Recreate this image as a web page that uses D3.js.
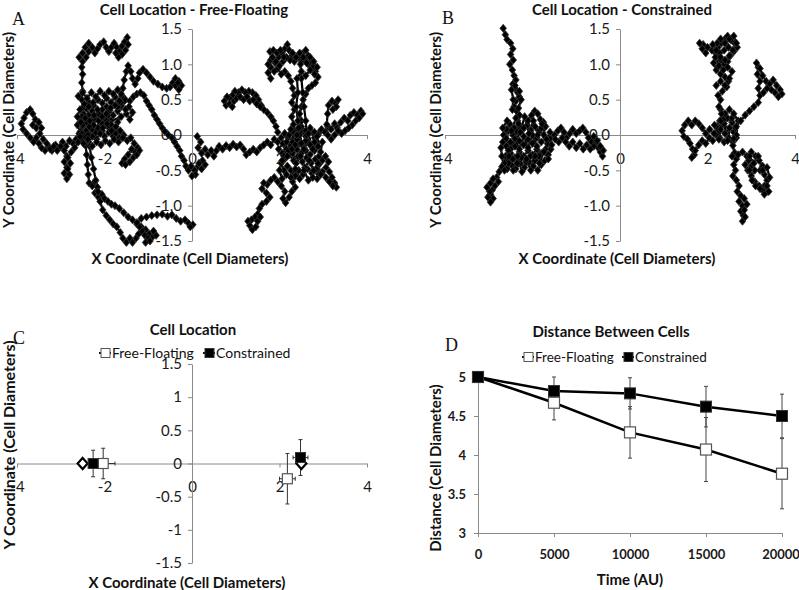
<!DOCTYPE html>
<html><head><meta charset="utf-8">
<script src="https://cdn.jsdelivr.net/npm/d3@7"></script>
<style>body{margin:0;background:#fff}svg{display:block}text{font-family:Lato,"Open Sans",sans-serif}</style>
</head><body><svg id="c" width="799" height="590"></svg>
<script>
// ---------------- DATA ----------------
const walkTicksX = [-4, -2, 0, 2, 4];
const walkTicksY = [-1.5, -1, -0.5, 0, 0.5, 1, 1.5];
const locTicksY = [-1.5, -1, -0.5, 0, 0.5, 1, 1.5];

// Panel A: free-floating trajectories (left cell)
const freeL1 = [[-2.5,0.0],[-2.42,0.06],[-2.35,0.0],[-2.28,0.08],[-2.2,0.03],[-2.12,0.12],[-2.05,0.06],[-1.98,0.15],[-1.9,0.1],[-1.85,0.2],[-1.92,0.28],[-2.02,0.24],[-2.1,0.32],[-2.2,0.26],[-2.28,0.34],[-2.36,0.28],[-2.42,0.38],[-2.35,0.46],[-2.25,0.42],[-2.15,0.5],[-2.05,0.45],[-1.95,0.52],[-1.85,0.46],[-1.76,0.54],[-1.68,0.48],[-1.6,0.56],[-1.55,0.48],[-1.62,0.4],[-1.7,0.34],[-1.62,0.26],[-1.7,0.18],[-1.78,0.1],[-1.7,0.04],[-1.8,-0.02],[-1.9,0.04],[-2.0,-0.02],[-2.1,0.02],[-2.18,-0.06],[-2.28,-0.02],[-2.36,-0.1],[-2.45,-0.04],[-2.55,0.05],[-2.62,0.14],[-2.55,0.22],[-2.48,0.3],[-2.4,0.22],[-2.3,0.18],[-2.22,0.22],[-2.14,0.3],[-2.05,0.36],[-1.95,0.4],[-1.88,0.35],[-1.8,0.28],[-1.85,0.15],[-1.95,0.2],[-2.05,0.16],[-2.15,0.1],[-2.25,0.14],[-2.35,0.12],[-2.42,0.18],[-2.5,0.12],[-2.58,0.02],[-2.65,-0.06],[-2.72,-0.12],[-2.8,-0.08],[-2.88,-0.16],[-2.96,-0.1],[-3.04,-0.18],[-3.12,-0.14],[-3.2,-0.22],[-3.28,-0.16],[-3.36,-0.22],[-3.44,-0.18],[-3.5,-0.12],[-3.56,-0.04],[-3.62,-0.1],[-3.7,-0.04],[-3.78,0.02],[-3.86,0.08],[-3.9,0.16],[-3.84,0.24],[-3.78,0.32],[-3.7,0.36],[-3.64,0.3],[-3.58,0.22],[-3.64,0.14],[-3.56,0.1],[-3.5,0.18],[-3.44,0.1],[-3.48,0.02],[-3.4,-0.06],[-3.32,-0.12],[-3.24,-0.2],[-3.16,-0.16],[-3.08,-0.22],[-3.0,-0.16],[-2.92,-0.22],[-2.86,-0.3],[-2.92,-0.38],[-2.86,-0.46],[-2.92,-0.54],[-2.86,-0.62],[-2.8,-0.56],[-2.84,-0.48],[-2.78,-0.4],[-2.84,-0.32],[-2.76,-0.24],[-2.68,-0.18],[-2.6,-0.1],[-2.52,-0.04]];
const freeL2 = [[-2.52,0.02],[-2.5,0.14],[-2.52,0.26],[-2.5,0.38],[-2.52,0.5],[-2.5,0.62],[-2.52,0.74],[-2.5,0.86],[-2.52,0.96],[-2.5,1.04],[-2.58,1.1],[-2.5,1.16],[-2.42,1.1],[-2.36,1.18],[-2.44,1.24],[-2.36,1.3],[-2.28,1.24],[-2.22,1.16],[-2.16,1.22],[-2.1,1.28],[-2.02,1.32],[-1.96,1.24],[-1.9,1.18],[-1.84,1.24],[-1.78,1.3],[-1.72,1.24],[-1.66,1.18],[-1.6,1.26],[-1.54,1.32],[-1.48,1.38],[-1.46,1.28],[-1.52,1.2],[-1.6,1.14],[-1.68,1.1],[-1.74,1.16]];
const freeL3 = [[-1.62,0.42],[-1.6,0.54],[-1.58,0.66],[-1.55,0.78],[-1.5,0.9],[-1.46,0.98],[-1.4,0.9],[-1.36,0.8],[-1.3,0.72],[-1.24,0.8],[-1.2,0.88],[-1.12,0.93],[-1.04,0.88],[-0.96,0.82],[-0.88,0.76],[-0.78,0.72],[-0.68,0.68],[-0.58,0.66],[-0.5,0.68],[-0.44,0.74],[-0.38,0.8],[-0.3,0.76],[-0.24,0.7],[-0.3,0.64],[-0.38,0.7],[-0.32,0.74]];
const freeL4 = [[-1.7,0.4],[-1.62,0.46],[-1.52,0.5],[-1.42,0.48],[-1.34,0.54],[-1.26,0.58],[-1.18,0.6],[-1.1,0.56],[-1.04,0.48],[-0.98,0.42],[-0.92,0.36],[-0.86,0.28],[-0.8,0.22],[-0.74,0.16],[-0.68,0.1],[-0.62,0.05],[-0.54,0.0],[-0.46,-0.04],[-0.4,-0.1],[-0.34,-0.16],[-0.28,-0.22],[-0.24,-0.3],[-0.18,-0.36],[-0.14,-0.44],[-0.08,-0.5],[-0.02,-0.44],[0.06,-0.5],[0.14,-0.44],[0.22,-0.48],[0.3,-0.42],[0.24,-0.36],[0.16,-0.4],[0.08,-0.56],[0.0,-0.58]];
const freeL5 = [[-1.75,0.02],[-1.66,-0.04],[-1.56,0.0],[-1.48,-0.08],[-1.4,-0.04],[-1.32,-0.12],[-1.24,-0.18],[-1.3,-0.24],[-1.38,-0.2],[-1.46,-0.28],[-1.54,-0.34],[-1.6,-0.4],[-1.52,-0.42],[-1.42,-0.38],[-1.34,-0.32],[-1.26,-0.28],[-1.2,-0.22]];
const freeL6 = [[-2.45,-0.02],[-2.43,-0.15],[-2.41,-0.28],[-2.39,-0.42],[-2.37,-0.56],[-2.35,-0.68],[-2.28,-0.72],[-2.22,-0.66],[-2.16,-0.74],[-2.22,-0.82],[-2.14,-0.88],[-2.06,-0.84],[-2.0,-0.9],[-1.92,-0.94],[-1.84,-0.98],[-1.76,-1.0],[-1.66,-1.04],[-1.56,-1.1],[-1.46,-1.16],[-1.36,-1.2],[-1.26,-1.26],[-1.16,-1.3],[-1.06,-1.34],[-0.98,-1.4],[-0.9,-1.44],[-0.82,-1.42],[-0.88,-1.36]];
const freeL7 = [[-2.38,0.0],[-2.34,-0.16],[-2.3,-0.32],[-2.25,-0.48],[-2.2,-0.64],[-2.15,-0.8],[-2.1,-0.94],[-2.04,-1.06],[-1.96,-1.14],[-1.88,-1.2],[-1.8,-1.26],[-1.72,-1.3],[-1.64,-1.38],[-1.58,-1.46],[-1.5,-1.52],[-1.42,-1.46],[-1.36,-1.52],[-1.28,-1.46],[-1.22,-1.4],[-1.14,-1.36],[-1.08,-1.42],[-1.0,-1.46],[-1.06,-1.52],[-0.96,-1.5],[-1.2,-1.3],[-1.26,-1.24],[-1.16,-1.18],[-1.04,-1.16],[-0.92,-1.14],[-0.8,-1.13],[-0.68,-1.12],[-0.56,-1.15],[-0.46,-1.13],[-0.36,-1.18],[-0.26,-1.22],[-0.16,-1.2],[-0.08,-1.25],[0.02,-1.27],[-0.04,-1.3]];
const freeL8 = [[-2.6,0.55],[-2.5,0.6],[-2.4,0.52],[-2.3,0.6],[-2.2,0.54],[-2.1,0.62],[-2.0,0.56],[-1.9,0.62],[-1.8,0.58],[-1.7,0.64],[-1.62,0.58],[-1.66,0.48],[-1.76,0.42],[-1.86,0.38],[-1.96,0.3],[-2.06,0.26],[-2.16,0.36],[-2.26,0.46],[-2.36,0.4],[-2.46,0.44],[-2.56,0.36],[-2.62,0.26],[-2.54,0.18],[-2.44,0.24],[-2.34,0.2],[-2.24,0.28],[-2.14,0.2],[-2.04,0.1],[-1.94,0.16],[-1.84,0.06],[-1.74,0.12],[-1.64,0.06],[-1.58,-0.04],[-1.68,-0.1],[-1.78,-0.06],[-1.88,-0.12],[-1.98,-0.08],[-2.08,-0.14],[-2.18,-0.1],[-2.28,-0.16],[-2.38,-0.06],[-2.48,-0.12],[-2.56,-0.02],[-1.5,0.3],[-1.42,0.22],[-1.36,0.32],[-1.44,0.4],[-1.52,0.36]];
// Panel A: free-floating trajectories (right cell)
const freeR1 = [[0.12,-0.02],[0.2,-0.1],[0.14,-0.18],[0.22,-0.26],[0.3,-0.2],[0.36,-0.28],[0.44,-0.22],[0.5,-0.3],[0.56,-0.22],[0.62,-0.16],[0.7,-0.2],[0.78,-0.15],[0.86,-0.18],[0.94,-0.13],[1.02,-0.17],[1.1,-0.14],[1.18,-0.2],[1.24,-0.28],[1.32,-0.24],[1.4,-0.2],[1.48,-0.24],[1.56,-0.18],[1.64,-0.14],[1.72,-0.1],[1.8,-0.14],[1.88,-0.06],[1.96,-0.1],[2.04,-0.04],[2.12,0.02]];
const freeR2 = [[2.12,0.02],[2.2,-0.04],[2.3,0.04],[2.4,-0.02],[2.5,0.06],[2.6,-0.02],[2.7,0.05],[2.8,-0.04],[2.9,0.03],[2.86,-0.1],[2.76,-0.16],[2.66,-0.1],[2.56,-0.18],[2.46,-0.12],[2.36,-0.2],[2.26,-0.14],[2.16,-0.2],[2.06,-0.26],[2.12,-0.34],[2.22,-0.28],[2.32,-0.36],[2.42,-0.3],[2.52,-0.38],[2.62,-0.32],[2.72,-0.4],[2.82,-0.34],[2.9,-0.42],[2.84,-0.5],[2.74,-0.54],[2.64,-0.48],[2.54,-0.56],[2.44,-0.5],[2.34,-0.58],[2.26,-0.5],[2.18,-0.44],[2.1,-0.5],[2.04,-0.4],[2.1,-0.3],[2.2,-0.22],[2.3,-0.26],[2.4,-0.2],[2.5,-0.26],[2.6,-0.22],[2.7,-0.28],[2.8,-0.22],[2.88,-0.16],[2.8,-0.1],[2.7,-0.14],[2.6,-0.08],[2.5,-0.12],[2.4,-0.06],[2.3,-0.1],[2.22,0.0],[2.3,0.1],[2.4,0.06],[2.5,0.12],[2.6,0.06],[2.7,0.1],[2.8,0.04]];
const freeR3 = [[2.36,-0.58],[2.3,-0.66],[2.36,-0.74],[2.28,-0.8],[2.22,-0.88],[2.14,-0.96],[2.08,-0.9],[2.12,-0.8],[2.04,-0.72],[1.96,-0.66],[1.88,-0.6],[1.8,-0.64],[1.72,-0.7],[1.64,-0.68],[1.6,-0.76],[1.7,-0.82],[1.78,-0.88],[1.7,-0.94],[1.6,-0.98],[1.54,-1.04],[1.5,-1.12],[1.44,-1.16],[1.36,-1.2],[1.28,-1.22],[1.32,-1.28],[1.38,-1.34],[1.46,-1.3],[1.5,-1.22],[1.56,-1.16]];
const freeR4 = [[2.9,-0.3],[2.98,-0.36],[3.05,-0.3],[3.12,-0.38],[3.06,-0.46],[3.14,-0.52],[3.2,-0.6],[3.26,-0.68],[3.3,-0.74],[3.22,-0.72],[3.14,-0.66],[3.06,-0.6],[2.98,-0.52],[2.9,-0.56],[2.84,-0.48]];
const freeR5 = [[2.3,0.05],[2.32,0.15],[2.28,0.26],[2.34,0.36],[2.28,0.46],[2.34,0.56],[2.3,0.66],[2.26,0.76],[2.2,0.84],[2.12,0.9],[2.04,0.86],[1.96,0.94],[1.88,0.9],[1.8,0.96],[1.74,0.88],[1.8,0.8],[1.74,1.0],[1.8,1.06],[1.9,1.02],[1.98,1.1],[2.06,1.16],[2.12,1.22],[2.18,1.28],[2.22,1.2],[2.26,1.1],[2.34,1.04],[2.42,1.1],[2.5,1.04],[2.58,1.08],[2.66,1.0],[2.74,0.96],[2.82,0.9],[2.88,0.82],[2.82,0.74],[2.74,0.7],[2.66,0.66],[2.6,0.58],[2.54,0.5],[2.5,0.4],[2.46,0.3],[2.5,0.2],[2.44,0.1]];
const freeR6 = [[2.62,0.0],[2.6,0.2],[2.56,0.4],[2.53,0.6],[2.5,0.8],[2.48,1.0],[2.52,1.15],[2.6,1.2],[2.66,1.12],[2.72,1.04],[2.78,0.98]];
const freeR7 = [[2.88,0.0],[2.96,0.08],[3.04,0.04],[3.1,0.12],[3.18,0.08],[3.26,0.16],[3.32,0.1],[3.4,0.18],[3.48,0.24],[3.56,0.2],[3.62,0.28],[3.7,0.32],[3.78,0.28],[3.86,0.34],[3.9,0.3],[3.82,0.24],[3.74,0.2],[3.66,0.14],[3.58,0.1],[3.5,0.06],[3.42,0.02],[3.34,0.06],[3.26,0.0],[3.18,-0.06],[3.1,0.0],[3.08,0.15],[3.1,0.3],[3.12,0.42],[3.2,0.48],[3.28,0.45],[3.34,0.5],[3.3,0.4],[3.22,0.36]];
const freeR8 = [[1.96,0.04],[1.92,0.12],[1.86,0.2],[1.8,0.26],[1.72,0.32],[1.64,0.36],[1.58,0.42],[1.52,0.5],[1.46,0.56],[1.38,0.6],[1.3,0.62],[1.22,0.6],[1.14,0.64],[1.06,0.6],[0.98,0.62],[0.92,0.56],[0.86,0.52],[0.8,0.54],[0.74,0.48],[0.78,0.42],[0.86,0.44],[0.92,0.4],[0.96,0.48],[1.02,0.52],[1.1,0.54],[1.18,0.5],[1.26,0.54],[1.32,0.48],[1.4,0.5],[1.48,0.44],[1.56,0.4]];
const freeR9 = [[1.98,-0.2],[2.08,-0.12],[2.18,-0.3],[2.28,-0.2],[2.38,-0.4],[2.48,-0.3],[2.58,-0.46],[2.68,-0.36],[2.78,-0.5],[2.88,-0.4],[2.94,-0.56],[2.86,-0.62],[2.76,-0.6],[2.66,-0.64],[2.56,-0.5],[2.46,-0.62],[2.36,-0.48],[2.26,-0.6],[2.16,-0.56],[2.06,-0.62],[2.0,-0.5],[2.06,-0.36],[2.16,-0.1],[2.26,0.08],[2.36,-0.14],[2.46,0.0],[2.56,-0.2],[2.66,0.02],[2.76,-0.2],[2.86,-0.02],[2.94,-0.24],[2.98,-0.1]];
const freeR10 = [[2.4,0.0],[2.42,0.2],[2.38,0.4],[2.42,0.6],[2.4,0.8],[2.5,0.9],[2.6,0.84],[2.7,0.92],[2.8,0.86],[2.86,0.96],[2.78,1.04],[2.7,1.1],[2.62,1.02],[2.54,1.1],[2.46,1.16],[2.38,1.1],[2.3,1.16],[2.24,1.06],[2.16,1.1],[2.08,1.04],[2.0,0.98],[1.92,1.04],[1.84,1.1],[1.78,1.18],[1.86,1.2],[1.94,1.16],[2.02,1.2],[2.1,1.1]];

// Panel B: constrained trajectories (left cell)
const conL1 = [[-2.67,1.51],[-2.62,1.42],[-2.58,1.35],[-2.5,1.3],[-2.45,1.22],[-2.5,1.14],[-2.44,1.06],[-2.52,1.0],[-2.46,0.92],[-2.42,0.84],[-2.38,0.78],[-2.45,0.72],[-2.4,0.66],[-2.34,0.6],[-2.3,0.54],[-2.38,0.48],[-2.42,0.4],[-2.36,0.34],[-2.3,0.28],[-2.34,0.2],[-2.3,0.12],[-2.36,0.05]];
const conL2 = [[-2.36,0.05],[-2.45,0.0],[-2.55,0.06],[-2.62,-0.02],[-2.68,-0.1],[-2.6,-0.16],[-2.5,-0.1],[-2.4,-0.16],[-2.3,-0.08],[-2.2,-0.14],[-2.1,-0.06],[-2.0,-0.12],[-1.9,-0.04],[-1.8,-0.1],[-1.7,-0.04],[-1.62,-0.12],[-1.7,-0.2],[-1.8,-0.26],[-1.9,-0.2],[-2.0,-0.28],[-2.1,-0.22],[-2.2,-0.3],[-2.3,-0.24],[-2.4,-0.32],[-2.5,-0.26],[-2.6,-0.34],[-2.66,-0.42],[-2.58,-0.48],[-2.48,-0.42],[-2.38,-0.48],[-2.28,-0.4],[-2.18,-0.46],[-2.08,-0.38],[-1.98,-0.44],[-1.88,-0.5],[-1.8,-0.42],[-1.72,-0.36],[-1.64,-0.28],[-1.58,-0.2],[-1.66,-0.12],[-1.74,0.0],[-1.84,0.06],[-1.94,0.12],[-2.04,0.06],[-2.12,0.14],[-2.22,0.08],[-2.32,0.16],[-2.42,0.1],[-2.52,0.16],[-2.6,0.08],[-2.66,0.0]];
const conL3 = [[-2.6,-0.05],[-2.5,-0.2],[-2.4,-0.05],[-2.3,-0.2],[-2.2,-0.02],[-2.1,-0.18],[-2.0,0.0],[-1.9,-0.16],[-1.85,-0.3],[-1.95,-0.36],[-2.05,-0.3],[-2.15,-0.38],[-2.25,-0.32],[-2.35,-0.4],[-2.45,-0.34],[-2.55,-0.4],[-2.62,-0.3],[-2.55,-0.22],[-2.2,0.1],[-2.1,0.2],[-2.02,0.28],[-1.95,0.34],[-1.88,0.3],[-1.82,0.22],[-1.75,0.18],[-1.8,0.1],[-1.7,0.12]];
const conL4 = [[-1.6,-0.05],[-1.5,0.0],[-1.42,0.06],[-1.35,0.1],[-1.28,0.04],[-1.22,-0.04],[-1.15,0.02],[-1.08,0.08],[-1.0,0.02],[-0.92,0.06],[-0.85,0.1],[-0.78,0.04],[-0.72,-0.04],[-0.65,-0.1],[-0.6,-0.02],[-0.55,-0.1],[-0.5,-0.18],[-0.45,-0.24],[-0.4,-0.3],[-0.38,-0.22],[-0.45,-0.16],[-0.52,-0.08],[-0.6,-0.16],[-0.68,-0.2],[-0.76,-0.14],[-0.84,-0.2],[-0.92,-0.12],[-1.0,-0.18],[-1.08,-0.1],[-1.16,-0.16],[-1.24,-0.1],[-1.32,-0.04],[-1.4,-0.1],[-1.48,-0.06]];
const conL5 = [[-2.64,-0.4],[-2.7,-0.45],[-2.76,-0.52],[-2.82,-0.6],[-2.78,-0.66],[-2.86,-0.72],[-2.92,-0.78],[-2.96,-0.84],[-2.9,-0.9],[-2.96,-0.95],[-3.02,-0.88],[-2.98,-0.8],[-3.04,-0.74],[-2.96,-0.68],[-2.9,-0.62]];
const conL6 = [[-2.3,0.28],[-2.46,0.36],[-2.44,0.5],[-2.48,0.64],[-2.4,0.7],[-2.3,0.62],[-2.26,0.5],[-2.32,0.38]];
const conL7 = [[-2.68,0.1],[-2.58,0.2],[-2.48,0.06],[-2.38,0.24],[-2.28,0.04],[-2.18,0.26],[-2.08,0.02],[-1.98,0.2],[-1.88,0.0],[-1.78,0.16],[-1.68,-0.06],[-1.6,0.04],[-1.56,-0.14],[-1.64,-0.34],[-1.74,-0.24],[-1.84,-0.4],[-1.94,-0.3],[-2.04,-0.5],[-2.14,-0.34],[-2.24,-0.52],[-2.34,-0.3],[-2.44,-0.5],[-2.54,-0.3],[-2.64,-0.5],[-2.7,-0.3],[-2.72,-0.18]];
// Panel B: constrained trajectories (right cell)
const conR1 = [[2.2,0.0],[2.3,0.08],[2.4,0.02],[2.5,0.1],[2.6,0.04],[2.66,-0.04],[2.58,-0.1],[2.48,-0.04],[2.38,-0.1],[2.28,-0.04],[2.2,0.12],[2.28,0.2],[2.38,0.16],[2.46,0.24],[2.56,0.18],[2.64,0.1],[2.16,0.14],[2.26,-0.06],[2.36,0.22],[2.46,-0.08],[2.56,0.24],[2.66,0.0],[2.7,0.2],[2.6,0.3],[2.5,0.36],[2.4,0.3],[2.3,0.36]];
const conR2 = [[2.15,0.02],[2.05,0.08],[1.96,0.02],[1.88,0.1],[1.8,0.16],[1.72,0.2],[1.64,0.14],[1.56,0.2],[1.48,0.14],[1.42,0.06],[1.46,-0.02],[1.54,-0.06],[1.6,-0.12],[1.66,-0.2],[1.7,-0.28],[1.64,-0.32],[1.72,-0.22],[1.8,-0.14],[1.88,-0.08],[1.96,-0.12],[2.04,-0.04],[2.12,-0.08]];
const conR3 = [[2.3,0.2],[2.32,0.3],[2.26,0.4],[2.3,0.5],[2.24,0.56],[2.34,0.62],[2.44,0.68],[2.48,0.76],[2.4,0.82],[2.3,0.86],[2.2,0.92],[2.14,1.02],[2.2,1.1],[2.16,1.18],[2.24,1.24],[2.32,1.3],[2.4,1.36],[2.46,1.4],[2.54,1.34],[2.62,1.3],[2.68,1.24],[2.6,1.18],[2.52,1.12],[2.46,1.04],[2.38,1.0],[2.3,1.06],[2.22,1.14],[2.1,1.2],[2.0,1.24],[1.9,1.28],[1.82,1.3],[1.88,1.22],[1.96,1.16]];
const conR4 = [[2.66,0.12],[2.76,0.2],[2.86,0.28],[2.96,0.34],[3.06,0.4],[3.16,0.46],[3.2,0.56],[3.16,0.66],[3.2,0.76],[3.14,0.86],[3.16,0.96],[3.12,1.02],[3.2,0.94],[3.26,0.84],[3.34,0.76],[3.42,0.72],[3.5,0.78],[3.58,0.7],[3.66,0.64],[3.7,0.58],[3.62,0.54],[3.54,0.6],[3.46,0.64],[3.36,0.66],[3.28,0.6]];
const conR5 = [[2.6,-0.05],[2.58,-0.15],[2.62,-0.25],[2.56,-0.3],[2.66,-0.34],[2.6,-0.42],[2.64,-0.5],[2.58,-0.58],[2.66,-0.64],[2.72,-0.72],[2.68,-0.8],[2.76,-0.86],[2.72,-0.94],[2.8,-1.0],[2.76,-1.08],[2.82,-1.14],[2.8,-1.22],[2.86,-1.16],[2.84,-1.06],[2.9,-0.98],[2.84,-0.9]];
const conR6 = [[2.7,-0.28],[2.8,-0.24],[2.9,-0.3],[3.0,-0.24],[3.1,-0.3],[3.18,-0.36],[3.26,-0.44],[3.2,-0.5],[3.3,-0.56],[3.36,-0.64],[3.3,-0.72],[3.36,-0.8],[3.26,-0.78],[3.18,-0.72],[3.08,-0.66],[3.0,-0.58],[3.08,-0.5],[3.0,-0.44],[2.92,-0.5],[2.86,-0.42],[2.94,-0.36]];
const conR7 = [[2.2,0.7],[2.3,0.76],[2.4,0.7],[2.5,0.8],[2.56,0.9],[2.46,0.96],[2.36,0.92],[2.26,0.98],[2.18,1.1],[2.28,1.16],[2.38,1.2],[2.48,1.24],[2.58,1.2],[2.66,1.3],[2.6,1.4],[2.5,1.36],[2.4,1.3],[2.3,1.36],[2.22,1.3],[2.12,1.28],[2.2,1.2],[2.3,1.1],[2.4,1.06],[2.5,1.12]];
const conR8 = [[2.96,-0.3],[3.06,-0.4],[3.16,-0.3],[3.26,-0.5],[3.36,-0.46],[3.42,-0.6],[3.36,-0.72],[3.4,-0.8],[3.3,-0.84],[3.2,-0.76],[3.1,-0.72],[3.02,-0.64],[2.96,-0.5]];

const freeWalks = [freeL1, freeL2, freeL3, freeL4, freeL5, freeL6, freeL7, freeL8, freeR1, freeR2, freeR3, freeR4, freeR5, freeR6, freeR7, freeR8, freeR9, freeR10];
const conWalks = [conL1, conL2, conL3, conL4, conL5, conL6, conL7, conR1, conR2, conR3, conR4, conR5, conR6, conR7, conR8];

// Panel C: mean cell location
const seriesNames = ["Free-Floating", "Constrained"];
const locFreeX = [-2.03, 2.18], locFreeY = [0.0, -0.23];
const locFreeXErr = [0.27, 0.18], locFreeYErr = [0.23, 0.38];
const locConX = [-2.26, 2.48], locConY = [0.0, 0.09];
const locConXErr = [0.1, 0.17], locConYErr = [0.2, 0.27];
const startX = [-2.5, 2.5], startY = [0.0, 0.0];

// Panel D: distance between cells
const timePoints = [0, 5000, 10000, 15000, 20000];
const distTicksY = [3, 3.5, 4, 4.5, 5];
const distFree = [5.0, 4.67, 4.29, 4.07, 3.76];
const distFreeErr = [0, 0.22, 0.33, 0.41, 0.45];
const distCon = [5.0, 4.82, 4.79, 4.62, 4.50];
const distConErr = [0, 0.18, 0.2, 0.26, 0.28];

// ---------------- DRAW ----------------
const svg = d3.select("#c");
const AX = "#8a8a8a";
const fmt = d => String(d);

function styleAxis(sel, size, weight) {
  sel.select(".domain").attr("stroke", AX);
  sel.selectAll(".tick line").attr("stroke", AX);
  sel.selectAll(".tick text").attr("fill", "#1a1a1a").style("font-size", size + "px")
     .style("font-weight", weight || 400).style("font-family", "Lato, sans-serif");
}
function title(x, y, t, fs) {
  svg.append("text").attr("x", x).attr("y", y).attr("text-anchor", "middle")
    .style("font-size", (fs || 15) + "px").style("font-weight", 700).attr("fill", "#111").text(t);
}
function vtitle(x, y, t, fs) {
  svg.append("text").attr("transform", `translate(${x},${y}) rotate(-90)`).attr("text-anchor", "middle")
    .attr("dy", "0.35em").style("font-size", (fs || 15) + "px").style("font-weight", 700).attr("fill", "#111").text(t);
}
function letter(x, y, t) {
  svg.append("text").attr("x", x).attr("y", y).style("font-family", "'Liberation Serif','DejaVu Serif',serif")
    .style("font-size", "18px").attr("fill", "#111").text(t);
}
const diamond = "M0,-4L3.3,0L0,4L-3.3,0Z";

function walkPanel(o) {
  const x = d3.scaleLinear().domain([-4, 4]).range(o.xr);
  const y = d3.scaleLinear().domain([-1.5, 1.5]).range([241, 29]);
  const g = svg.append("g");
  g.append("g").attr("transform", `translate(0,${y(0)})`)
    .call(d3.axisBottom(x).tickValues(walkTicksX).tickSize(4).tickSizeOuter(0).tickPadding(14).tickFormat(fmt))
    .call(s => styleAxis(s, 15));
  g.append("g").attr("transform", `translate(${x(0)},0)`)
    .call(d3.axisLeft(y).tickValues(walkTicksY).tickSize(4).tickSizeOuter(0).tickPadding(6).tickFormat(d => d.toFixed(1)))
    .call(s => styleAxis(s, 15));
  const line = d3.line().x(d => x(d[0])).y(d => y(d[1]));
  o.walks.forEach(w => {
    g.append("path").attr("d", line(w)).attr("fill", "none").attr("stroke", "#000").attr("stroke-width", 2.2);
  });
  o.walks.forEach(w => {
    g.append("g").selectAll("path").data(w).join("path")
      .attr("transform", d => `translate(${x(d[0])},${y(d[1])})`).attr("d", diamond)
      .attr("fill", "#000").attr("stroke", "#333").attr("stroke-width", 0.8);
  });
  title(o.tx, 15, o.title);
  vtitle(o.vx, 130, "Y Coordinate (Cell Diameters)");
  title(o.xtx, 264, "X Coordinate (Cell Diameters)");
}

walkPanel({xr: [17, 367], walks: freeWalks, title: "Cell Location - Free-Floating", tx: 194, vx: 9, xtx: 190});
walkPanel({xr: [445, 795], walks: conWalks, title: "Cell Location - Constrained", tx: 622, vx: 436, xtx: 617});
letter(12, 25, "A");
letter(442, 24, "B");

function legend(x1, y0, x2, fs) {
  [[x1, "#fff", "#555", seriesNames[0]], [x2, "#000", "#333", seriesNames[1]]].forEach(([lx, f, s, t]) => {
    svg.append("line").attr("x1", lx).attr("x2", lx + 12).attr("y1", y0).attr("y2", y0).attr("stroke", "#111").attr("stroke-width", 2);
    svg.append("rect").attr("x", lx + 2).attr("y", y0 - 4.5).attr("width", 9).attr("height", 9).attr("fill", f).attr("stroke", s);
    svg.append("text").attr("x", lx + 13).attr("y", y0 + 5).style("font-size", fs + "px").attr("fill", "#111").text(t);
  });
}

// ---- Panel C ----
(function () {
  const x = d3.scaleLinear().domain([-4, 4]).range([17, 367]);
  const y = d3.scaleLinear().domain([-1.5, 1.5]).range([563, 364]);
  const g = svg.append("g");
  g.append("g").attr("transform", `translate(0,${y(0)})`)
    .call(d3.axisBottom(x).tickValues(walkTicksX).tickSize(4).tickSizeOuter(0).tickPadding(14).tickFormat(fmt))
    .call(s => styleAxis(s, 15));
  g.append("g").attr("transform", `translate(${x(0)},0)`)
    .call(d3.axisLeft(y).tickValues(locTicksY).tickSize(4).tickSizeOuter(0).tickPadding(6).tickFormat(fmt))
    .call(s => styleAxis(s, 15));
  const eb = g.append("g").attr("stroke", "#333").attr("stroke-width", 1);
  function errs(xs, ys, xe, ye) {
    xs.forEach((cx, i) => {
      const cy = ys[i];
      eb.append("line").attr("x1", x(cx)).attr("x2", x(cx)).attr("y1", y(cy - ye[i])).attr("y2", y(cy + ye[i]));
      eb.append("line").attr("x1", x(cx) - 2).attr("x2", x(cx) + 2).attr("y1", y(cy - ye[i])).attr("y2", y(cy - ye[i]));
      eb.append("line").attr("x1", x(cx) - 2).attr("x2", x(cx) + 2).attr("y1", y(cy + ye[i])).attr("y2", y(cy + ye[i]));
      eb.append("line").attr("x1", x(cx - xe[i])).attr("x2", x(cx + xe[i])).attr("y1", y(cy)).attr("y2", y(cy));
      eb.append("line").attr("x1", x(cx - xe[i])).attr("x2", x(cx - xe[i])).attr("y1", y(cy) - 2).attr("y2", y(cy) + 2);
      eb.append("line").attr("x1", x(cx + xe[i])).attr("x2", x(cx + xe[i])).attr("y1", y(cy) - 2).attr("y2", y(cy) + 2);
    });
  }
  errs(locFreeX, locFreeY, locFreeXErr, locFreeYErr);
  errs(locConX, locConY, locConXErr, locConYErr);
  g.selectAll(".sd").data(startX).join("path").attr("class", "sd")
    .attr("transform", (d, i) => `translate(${x(d)},${y(startY[i])})`)
    .attr("d", "M0,-5.5L5,0L0,5.5L-5,0Z").attr("fill", "#fff").attr("stroke", "#000").attr("stroke-width", 2.2);
  g.selectAll(".sf").data(locFreeX).join("rect").attr("class", "sf")
    .attr("x", (d) => x(d) - 5).attr("y", (d, i) => y(locFreeY[i]) - 5).attr("width", 10).attr("height", 10)
    .attr("fill", "#fff").attr("stroke", "#555").attr("stroke-width", 1.2);
  g.selectAll(".sc").data(locConX).join("rect").attr("class", "sc")
    .attr("x", (d) => x(d) - 5).attr("y", (d, i) => y(locConY[i]) - 5).attr("width", 10).attr("height", 10)
    .attr("fill", "#000").attr("stroke", "#333");
  title(193, 335, "Cell Location");
  vtitle(9, 445, "Y Coordinate (Cell Diameters)", 16);
  title(187, 588, "X Coordinate (Cell Diameters)");
  legend(99, 353, 203, 14);
  letter(13, 344, "C");
})();

// ---- Panel D ----
(function () {
  const x = d3.scaleLinear().domain([0, 20000]).range([478, 782]);
  const y = d3.scaleLinear().domain([3, 5]).range([533, 377]);
  const g = svg.append("g");
  g.append("g").attr("transform", `translate(0,${y(3)})`)
    .call(d3.axisBottom(x).tickValues(timePoints).tickSize(4).tickSizeOuter(0).tickPadding(13).tickFormat(fmt))
    .call(s => styleAxis(s, 13, 700))
    .call(s => s.selectAll(".tick text").filter(d => d === 20000).attr("dx", "-1.5"));
  g.append("g").attr("transform", `translate(${x(0)},0)`)
    .call(d3.axisLeft(y).tickValues(distTicksY).tickSize(4).tickSizeOuter(0).tickPadding(8).tickFormat(fmt))
    .call(s => styleAxis(s, 13, 700));
  const eb = g.append("g").attr("stroke", "#444").attr("stroke-width", 1);
  [[distFree, distFreeErr], [distCon, distConErr]].forEach(([v, e]) => {
    timePoints.forEach((t, i) => {
      if (!e[i]) return;
      eb.append("line").attr("x1", x(t)).attr("x2", x(t)).attr("y1", y(v[i] - e[i])).attr("y2", y(v[i] + e[i]));
      [v[i] - e[i], v[i] + e[i]].forEach(yy => eb.append("line").attr("x1", x(t) - 2).attr("x2", x(t) + 2).attr("y1", y(yy)).attr("y2", y(yy)));
    });
  });
  const line = d3.line().x((d, i) => x(timePoints[i])).y(d => y(d));
  g.append("path").attr("d", line(distFree)).attr("fill", "none").attr("stroke", "#000").attr("stroke-width", 2.5);
  g.append("path").attr("d", line(distCon)).attr("fill", "none").attr("stroke", "#000").attr("stroke-width", 2.5);
  g.selectAll(".df").data(distFree).join("rect").attr("class", "df")
    .attr("x", (d, i) => x(timePoints[i]) - 5.5).attr("y", d => y(d) - 5.5).attr("width", 11).attr("height", 11)
    .attr("fill", "#fff").attr("stroke", "#555").attr("stroke-width", 1.2);
  g.selectAll(".dc").data(distCon).join("rect").attr("class", "dc")
    .attr("x", (d, i) => x(timePoints[i]) - 5.5).attr("y", d => y(d) - 5.5).attr("width", 11).attr("height", 11)
    .attr("fill", "#000").attr("stroke", "#333");
  title(611, 337, "Distance Between Cells");
  vtitle(436, 468, "Distance (Cell Diameters)");
  title(630, 585, "Time (AU)");
  legend(522, 357, 622, 13.5);
  letter(445, 351, "D");
})();
</script></body></html>
